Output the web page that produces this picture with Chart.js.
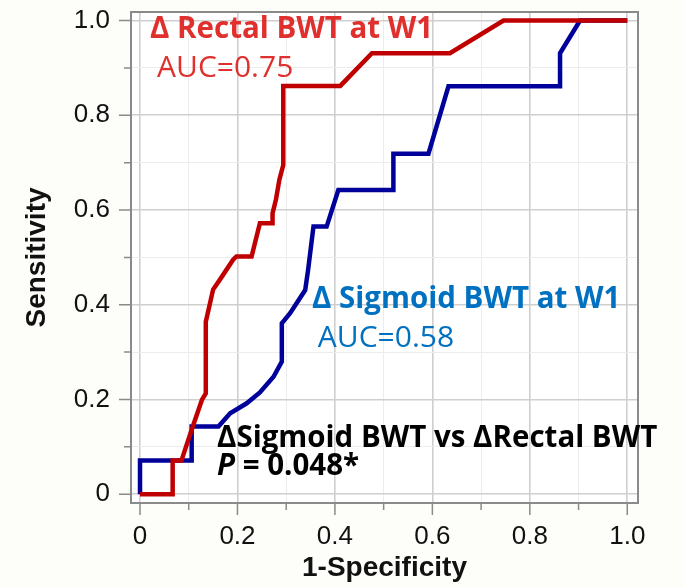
<!DOCTYPE html>
<html>
<head>
<meta charset="utf-8">
<script src="https://cdn.jsdelivr.net/npm/chart.js@4"></script>
<style>
  html, body { margin: 0; padding: 0; background: #fdfdf9; }
  #wrap { width: 684px; height: 587px; }
</style>
</head>
<body>
<div id="wrap"><canvas id="roc"></canvas></div>
<script>
  // ── ROC curves (1-specificity, sensitivity) ──
  var rectalFpr = [0, 0.067, 0.067, 0.085, 0.106, 0.127, 0.135, 0.135, 0.150, 0.164, 0.191, 0.198, 0.229, 0.246, 0.272, 0.272, 0.279, 0.286, 0.294, 0.294, 0.411, 0.476, 0.636, 0.746, 1.0];
  var rectalTpr = [0, 0, 0.071, 0.071, 0.136, 0.199, 0.213, 0.364, 0.432, 0.453, 0.495, 0.502, 0.502, 0.572, 0.572, 0.593, 0.622, 0.664, 0.695, 0.862, 0.862, 0.931, 0.931, 1.0, 1.0];

  var sigmoidFpr = [0, 0, 0.106, 0.106, 0.161, 0.185, 0.219, 0.246, 0.274, 0.291, 0.291, 0.308, 0.339, 0.345, 0.356, 0.383, 0.407, 0.520, 0.520, 0.592, 0.633, 0.862, 0.862, 0.903, 1.0];
  var sigmoidTpr = [0, 0.071, 0.071, 0.143, 0.143, 0.171, 0.192, 0.215, 0.248, 0.280, 0.361, 0.382, 0.431, 0.474, 0.565, 0.565, 0.642, 0.642, 0.719, 0.719, 0.861, 0.861, 0.931, 1.0, 1.0];

  // ticks every 0.1, labels on every other one
  var tickValues = [0, 0.1, 0.2, 0.3, 0.4, 0.5, 0.6, 0.7, 0.8, 0.9, 1.0];
  var tickLabels = ['0', '0.2', '0.4', '0.6', '0.8', '1.0'];

  function toPoints(xs, ys) {
    return xs.map(function(x, i) { return { x: x, y: ys[i] }; });
  }

  // Text placed in data units (left edge, baseline)
  var notes = [
    { x: 0.0205, y: 0.9635, color: '#e0302d', parts: [{ t: 'Δ Rectal BWT at W1', f: 'bold 29.5px "Open Sans"' }] },
    { x: 0.035,  y: 0.881,  color: '#e0302d', parts: [{ t: 'AUC=0.75', f: '30px "Open Sans"' }] },
    { x: 0.353,  y: 0.393,  color: '#0070c0', parts: [{ t: 'Δ Sigmoid BWT at W1', f: 'bold 29.5px "Open Sans"' }] },
    { x: 0.365,  y: 0.311,  color: '#0070c0', parts: [{ t: 'AUC=0.58', f: '30px "Open Sans"' }] },
    { x: 0.158,  y: 0.1005, color: '#000000', parts: [{ t: 'ΔSigmoid BWT vs ΔRectal BWT', f: 'bold 29.5px "Open Sans"' }] },
    { x: 0.158,  y: 0.041,  color: '#000000', parts: [{ t: 'P', f: 'italic bold 29.5px "Open Sans"' }, { t: ' = 0.048*', f: 'bold 29.5px "Open Sans"' }] }
  ];

  var framePlugin = {
    id: 'frame',
    beforeDraw: function(chart) {
      var a = chart.chartArea, c = chart.ctx;
      c.save();
      c.fillStyle = '#ffffff';
      c.fillRect(a.left, a.top, a.right - a.left, a.bottom - a.top);
      c.restore();
    },
    afterDatasetsDraw: function(chart) {
      var a = chart.chartArea, c = chart.ctx;
      var sx = chart.scales.x, sy = chart.scales.y;
      c.save();
      // outer frame
      c.strokeStyle = '#8a8a8a';
      c.lineWidth = 2;
      c.strokeRect(a.left, a.top, a.right - a.left, a.bottom - a.top);
      // tick marks outside the frame
      c.lineWidth = 1.5;
      c.beginPath();
      tickValues.forEach(function(v, i) {
        var len = i % 2 === 0 ? 12 : 7;
        var px = sx.getPixelForValue(v);
        c.moveTo(px, a.bottom);
        c.lineTo(px, a.bottom + len);
        var py = sy.getPixelForValue(v);
        c.moveTo(a.left, py);
        c.lineTo(a.left - len, py);
      });
      c.stroke();
      // annotations
      c.textBaseline = 'alphabetic';
      c.textAlign = 'left';
      notes.forEach(function(n) {
        var x = sx.getPixelForValue(n.x);
        var y = sy.getPixelForValue(n.y);
        c.fillStyle = n.color;
        n.parts.forEach(function(p) {
          c.font = p.f;
          c.fillText(p.t, x, y);
          x += c.measureText(p.t).width;
        });
      });
      c.restore();
    }
  };

  function gridColor(ctx) {
    return ctx.index % 2 === 0 ? '#cfcfcf' : '#ececec';
  }
  function gridWidth(ctx) {
    return ctx.index % 2 === 0 ? 1.6 : 1;
  }
  function setTicks(scale) {
    scale.ticks = tickValues.map(function(v) { return { value: v }; });
  }
  function tickText(value, index) {
    return index % 2 === 0 ? tickLabels[index / 2] : '';
  }

  var ctx = document.getElementById('roc').getContext('2d');
  var chart = new Chart(ctx, {
    type: 'line',
    data: {
      datasets: [{
        label: 'Δ Rectal BWT at W1',
        data: toPoints(rectalFpr, rectalTpr),
        borderColor: '#c00000',
        borderWidth: 4.5,
        borderJoinStyle: 'miter',
        pointRadius: 0,
        tension: 0,
        fill: false
      }, {
        label: 'Δ Sigmoid BWT at W1',
        data: toPoints(sigmoidFpr, sigmoidTpr),
        borderColor: '#00009a',
        borderWidth: 4.5,
        borderJoinStyle: 'miter',
        pointRadius: 0,
        tension: 0,
        fill: false
      }]
    },
    options: {
      responsive: true,
      maintainAspectRatio: false,
      animation: false,
      layout: { padding: { left: 0, top: 12, right: 46, bottom: 0 } },
      plugins: {
        legend: { display: false },
        tooltip: { enabled: false }
      },
      scales: {
        x: {
          type: 'linear',
          min: -0.0185,
          max: 1.022,
          afterBuildTicks: setTicks,
          afterFit: function(s) {
            s.height = 84;
            s.paddingLeft = 0;
            s.paddingRight = 0;
          },
          grid: { color: gridColor, lineWidth: gridWidth, drawTicks: false },
          border: { display: false },
          ticks: {
            callback: tickText,
            autoSkip: false,
            maxRotation: 0,
            padding: 18,
            color: '#111111',
            font: { family: '"Liberation Sans", Arial', size: 26 }
          },
          title: {
            display: true,
            text: '1-Specificity',
            color: '#111111',
            padding: { top: 0, bottom: 2 },
            font: { family: '"Liberation Sans", Arial', size: 28, weight: 'bold' }
          }
        },
        y: {
          type: 'linear',
          min: -0.0185,
          max: 1.018,
          afterBuildTicks: setTicks,
          afterFit: function(s) {
            s.width = 131;
            s.paddingTop = 0;
            s.paddingBottom = 0;
          },
          grid: { color: gridColor, lineWidth: gridWidth, drawTicks: false },
          border: { display: false },
          ticks: {
            callback: tickText,
            autoSkip: false,
            padding: 21,
            color: '#111111',
            font: { family: '"Liberation Sans", Arial', size: 26 }
          },
          title: {
            display: true,
            text: 'Sensitivity',
            color: '#111111',
            padding: { top: 20, bottom: 0 },
            font: { family: '"Liberation Sans", Arial', size: 28, weight: 'bold' }
          }
        }
      }
    },
    plugins: [framePlugin]
  });
</script>
</body>
</html>
